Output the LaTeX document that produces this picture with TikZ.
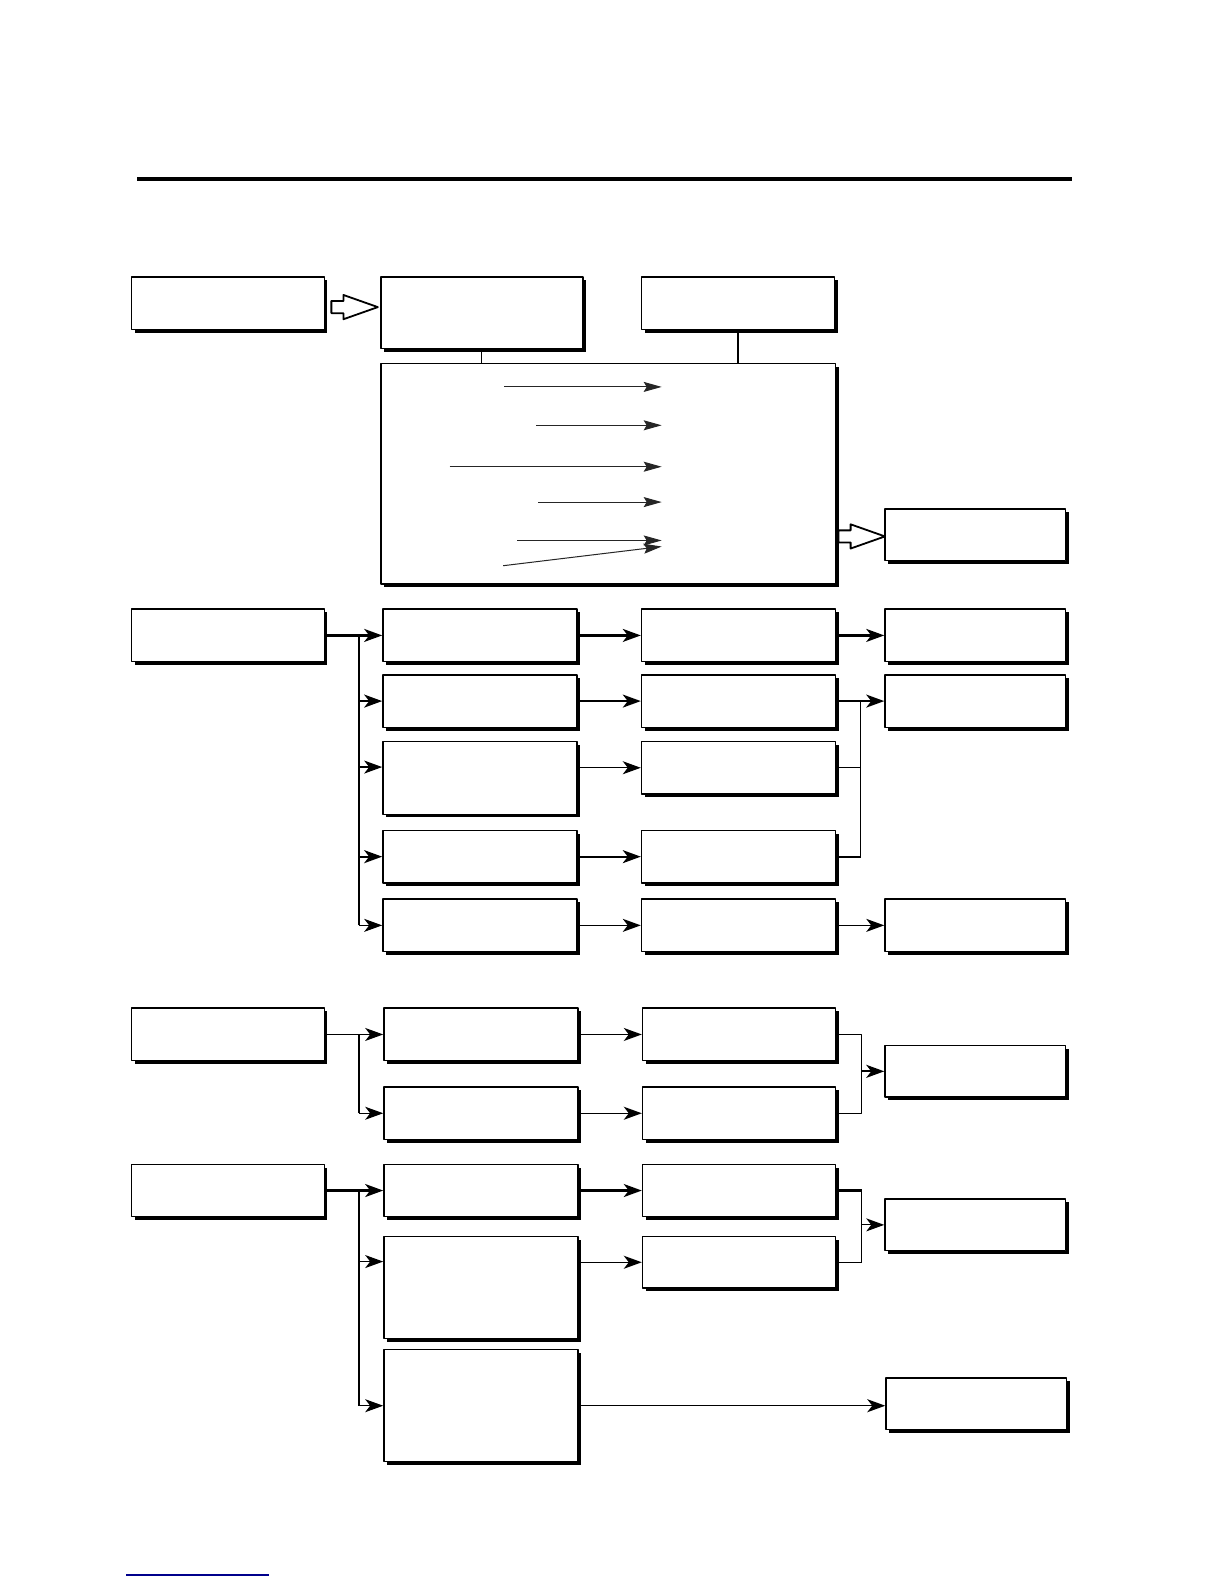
\documentclass[tikz,border=0pt]{standalone}
\usetikzlibrary{arrows.meta,fit,calc,shadows}

\begin{document}
\begin{tikzpicture}[
    x = 0.505pt, y = -0.505pt,
    line join=round,
    box/.style = {draw, line width=0.7pt, fill=white, inner sep=0pt,
        drop shadow={shadow xshift=1.6pt, shadow yshift=-1.6pt, fill=black, opacity=1}},
    thk/.style = {line width=1.1pt},
    thn/.style = {line width=0.6pt},
    arr/.style = {-{Stealth[length=9pt, width=6.5pt, inset=2.5pt]}},
    hollow/.style = {line width=0.9pt, fill=white},
    inarr/.style = {line width=0.5pt, black!85, -{Stealth[length=9pt, width=5pt, inset=1.5pt]}}
]

\useasboundingbox (0,0) rectangle (1212,1568);

% rule on top
\draw[line width=2pt] (136,177) -- (1061,177);

% first block
\node[box, fit={(130,274) (321,326)}] (A) {};
\node[box, fit={(377,274) (577,345)}] (B) {};
\node[box, fit={(635,274) (826,326)}] (C) {};
\node[box, fit={(377,360) (827,578)}] (D) {};
\node[box, fit={(876,504) (1055,555)}] (E) {};

\draw[thn] (B.south) -- (B.south |- D.north);
\draw[thn] (C.south) -- (C.south |- D.north);

\draw[hollow] (328,298) -- (340,298) -- (340,292) -- (374,304) -- (340,316) -- (340,310) -- (328,310) -- cycle;
\draw[hollow] (830,525) -- (842,525) -- (842,519) -- (876,531) -- (842,543) -- (842,537) -- (830,537) -- cycle;

\draw[inarr] (499,383) -- (655,383);
\draw[inarr] (531,421) -- (655,421);
\draw[inarr] (445,462) -- (655,462);
\draw[inarr] (533,497) -- (655,497);
\draw[inarr] (512,535) -- (655,535);
\draw[inarr] (498,560) -- (655,541);

% second block
\node[box, fit={(130,603) (321,655)}] (F) {};
\node[box, fit={(379,603) (571,655)}] (G1) {};
\node[box, fit={(379,668) (571,720)}] (G2) {};
\node[box, fit={(379,734) (571,806)}] (G3) {};
\node[box, fit={(379,822) (571,874)}] (G4) {};
\node[box, fit={(379,890) (571,942)}] (G5) {};
\node[box, fit={(635,603) (827,655)}] (H1) {};
\node[box, fit={(635,668) (827,720)}] (H2) {};
\node[box, fit={(635,734) (827,786)}] (H3) {};
\node[box, fit={(635,822) (827,874)}] (H4) {};
\node[box, fit={(635,890) (827,942)}] (H5) {};
\node[box, fit={(876,603) (1055,655)}] (I1) {};
\node[box, fit={(876,668) (1055,720)}] (I2) {};
\node[box, fit={(876,890) (1055,942)}] (I5) {};

\coordinate (busF) at (355,629);
\coordinate (G3in) at ($(G3.north west)+(0,26)$);
\coordinate (mrgH) at (852,694);

\draw[thk] (F.east) -- (busF) -- (busF |- G5.west);
\draw[thk, arr] (busF) -- (G1.west);
\draw[thk, arr] (busF |- G2.west) -- (G2.west);
\draw[thn, arr] (busF |- G3in) -- (G3in);
\draw[thk, arr] (busF |- G4.west) -- (G4.west);
\draw[thn, arr] (busF |- G5.west) -- (G5.west);

\draw[thk, arr] (G1.east) -- (H1.west);
\draw[thk, arr] (G2.east) -- (H2.west);
\draw[thn, arr] (H3.west -| G3.east) -- (H3.west);
\draw[thk, arr] (G4.east) -- (H4.west);
\draw[thn, arr] (G5.east) -- (H5.west);

\draw[thk, arr] (H1.east) -- (I1.west);
\draw[thk, arr] (H2.east) -- (I2.west);
\draw[thn] (H3.east) -- (H3.east -| mrgH);
\draw[thk] (H4.east) -- (H4.east -| mrgH);
\draw[thn] (mrgH) -- (mrgH |- H4.east);
\draw[thn, arr] (H5.east) -- (I5.west);

% third block
\node[box, fit={(130,998) (321,1050)}] (J) {};
\node[box, fit={(380,998) (572,1050)}] (K1) {};
\node[box, fit={(380,1076) (572,1128)}] (K2) {};
\node[box, fit={(636,998) (827,1050)}] (L1) {};
\node[box, fit={(636,1076) (827,1128)}] (L2) {};
\node[box, fit={(876,1035) (1055,1086)}] (M) {};

\coordinate (busJ) at (355,1024);
\coordinate (mrgL) at (853,1060.5);

\draw[thn] (J.east) -- (busJ);
\draw[thk] (busJ) -- (busJ |- K2.west);
\draw[thn, arr] (busJ) -- (K1.west);
\draw[thn, arr] (busJ |- K2.west) -- (K2.west);
\draw[thn, arr] (K1.east) -- (L1.west);
\draw[thn, arr] (K2.east) -- (L2.west);
\draw[thn] (L1.east) -| (mrgL);
\draw[thn] (L2.east) -| (mrgL);
\draw[thk, arr] (mrgL) -- (M.west);

% fourth block
\node[box, fit={(130,1153) (321,1204)}] (N) {};
\node[box, fit={(380,1153) (572,1204)}] (O1) {};
\node[box, fit={(380,1224) (572,1325)}] (O2) {};
\node[box, fit={(380,1336) (572,1447)}] (O3) {};
\node[box, fit={(636,1153) (827,1204)}] (P1) {};
\node[box, fit={(636,1224) (827,1275)}] (P2) {};
\node[box, fit={(876,1187) (1055,1238)}] (Q) {};
\node[box, fit={(877,1364) (1056,1415)}] (R) {};

\coordinate (busN) at (355,1178.5);
\coordinate (O2in) at ($(O2.north west)+(0,25.5)$);
\coordinate (mrgP) at (853,1212.5);

\draw[thk] (N.east) -- (busN) -- (busN |- O3.west);
\draw[thk, arr] (busN) -- (O1.west);
\draw[thn, arr] (busN |- O2in) -- (O2in);
\draw[thn, arr] (busN |- O3.west) -- (O3.west);
\draw[thk, arr] (O1.east) -- (P1.west);
\draw[thn, arr] (P2.west -| O2.east) -- (P2.west);
\draw[thk] (P1.east) -- (P1.east -| mrgP);
\draw[thn] (P2.east) -- (P2.east -| mrgP);
\draw[thn] (P1.east -| mrgP) -- (P2.east -| mrgP);
\draw[thn, arr] (mrgP) -- (Q.west);
\draw[thn, arr] (O3.east) -- (O3.east -| R.west);

% line at the foot
\draw[blue!55!black, line width=0.7pt] (125,1559) -- (266,1559);

\end{tikzpicture}
\end{document}
